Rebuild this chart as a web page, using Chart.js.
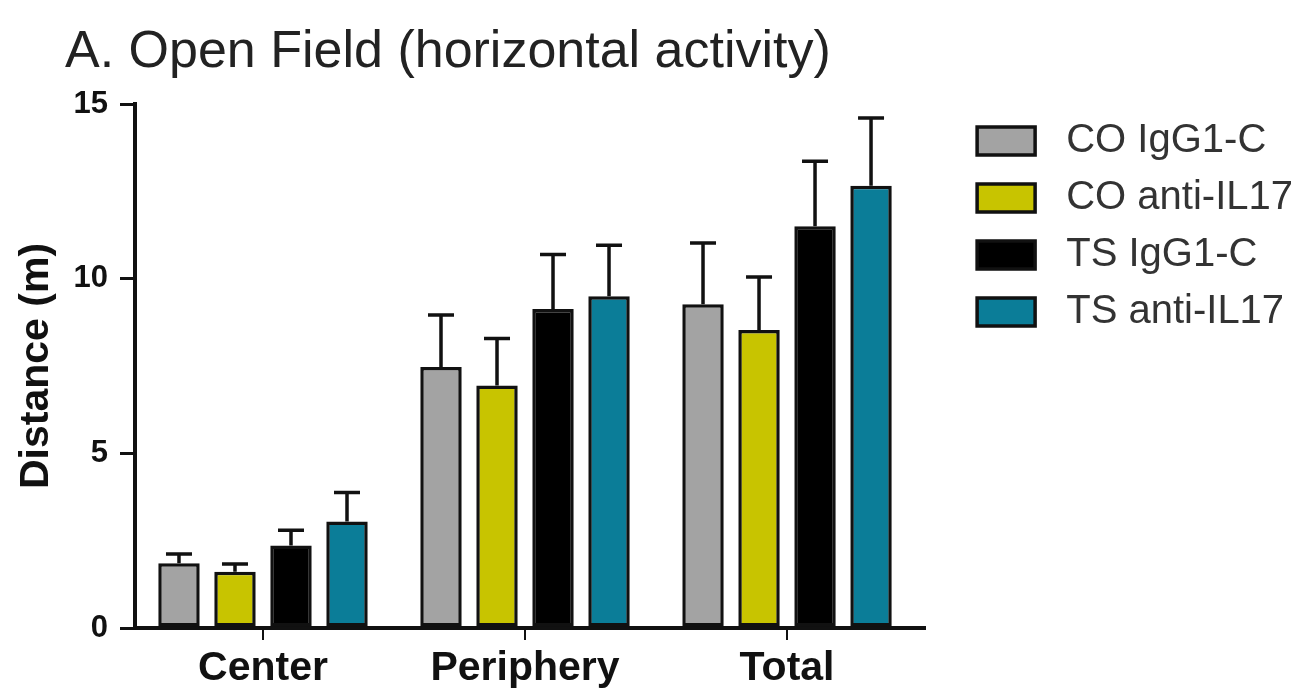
<!DOCTYPE html>
<html lang="en">
<head>
  <meta charset="UTF-8">
  <title>A. Open Field (horizontal activity)</title>
  <script src="https://cdn.jsdelivr.net/npm/chart.js"></script>
  <style>
    body {
      margin: 0;
      background: #fff;
      font-family: 'Liberation Sans', Arial, sans-serif;
    }

    #titulo {
      box-sizing: border-box;
      height: 80px;
      padding: 18px 0 0 65px;
      font-size: 52px;
      line-height: 62px;
      color: #222;
      white-space: nowrap;
    }

    #caixa {
      position: relative;
      width: 1314px;
      height: 614px;
    }
  </style>
</head>
<body>

  <div id="titulo">A. Open Field (horizontal activity)</div>
  <div id="caixa">
    <canvas id="grafico"></canvas>
  </div>

  <script>
    const categorias = ['Center', 'Periphery', 'Total'];
    const grupos = ['CO IgG1-C', 'CO anti-IL17', 'TS IgG1-C', 'TS anti-IL17'];
    const cores = ['#a3a3a3', '#c8c400', '#000000', '#0b7d98'];

    // medias e erro (so a parte de cima) por grupo
    const coIgg = [1.85, 7.47, 9.27];
    const coIggErro = [0.27, 1.49, 1.75];
    const coAnti = [1.61, 6.94, 8.53];
    const coAntiErro = [0.22, 1.35, 1.52];
    const tsIgg = [2.36, 9.13, 11.50];
    const tsIggErro = [0.44, 1.56, 1.86];
    const tsAnti = [3.05, 9.50, 12.66];
    const tsAntiErro = [0.83, 1.46, 1.94];

    const yTicks = [0, 5, 10, 15];

    const medias = [coIgg, coAnti, tsIgg, tsAnti];
    const erros = [coIggErro, coAntiErro, tsIggErro, tsAntiErro];

    const barrasErro = {
      id: 'barrasErro',
      afterDatasetsDraw(chart) {
        const ctx = chart.ctx;
        const y = chart.scales.y;
        ctx.save();
        ctx.strokeStyle = '#111';
        ctx.lineWidth = 3.5;
        chart.data.datasets.forEach((ds, i) => {
          chart.getDatasetMeta(i).data.forEach((bar, j) => {
            const topo = y.getPixelForValue(medias[i][j] + erros[i][j]);
            ctx.beginPath();
            ctx.moveTo(bar.x, bar.y);
            ctx.lineTo(bar.x, topo);
            ctx.moveTo(bar.x - 13, topo);
            ctx.lineTo(bar.x + 13, topo);
            ctx.stroke();
          });
        });
        ctx.restore();
      }
    };

    new Chart(document.getElementById('grafico'), {
      type: 'bar',
      data: {
        labels: categorias.map((c, i) => i),
        datasets: grupos.map((g, i) => ({
          label: g,
          data: medias[i].map((v, j) => ({ x: j, y: v })),
          backgroundColor: cores[i],
          borderColor: '#111',
          borderWidth: 3.5,
          borderSkipped: false,
          categoryPercentage: 0.855,
          barPercentage: 0.74
        }))
      },
      options: {
        responsive: true,
        maintainAspectRatio: false,
        animation: false,
        layout: { padding: { top: 24, right: 11, left: 0, bottom: 0 } },
        plugins: {
          tooltip: { enabled: false },
          legend: {
            position: 'right',
            align: 'start',
            fullSize: false,
            maxWidth: 420,
            labels: {
              boxWidth: 58,
              boxHeight: 28,
              padding: 17,
              color: '#333',
              font: { family: 'Liberation Sans', size: 40 },
              generateLabels(chart) {
                const itens = Chart.defaults.plugins.legend.labels.generateLabels(chart);
                itens.forEach(it => { it.text = ' ' + it.text; });
                return itens;
              }
            }
          }
        },
        scales: {
          x: {
            type: 'linear',
            min: -0.4885,
            max: 2.527,
            offset: false,
            afterFit(s) { s.height = 66; },
            border: { display: true, color: '#111', width: 4 },
            grid: { display: true, offset: false, drawOnChartArea: false, drawTicks: true, tickLength: 12, color: '#111', lineWidth: 2 },
            ticks: {
              stepSize: 1,
              includeBounds: false,
              autoSkip: false,
              maxRotation: 0,
              padding: 4,
              color: '#111',
              font: { family: 'Liberation Sans', size: 41, weight: 'bold' },
              callback: v => categorias[v]
            }
          },
          y: {
            min: 0,
            max: 15,
            afterFit(s) {
              s.width = 135;
              s.paddingTop = 0;
              s.paddingBottom = 0;
            },
            afterBuildTicks(s) { s.ticks = yTicks.map(v => ({ value: v })); },
            border: { display: true, color: '#111', width: 4 },
            grid: { display: true, drawOnChartArea: false, drawTicks: true, tickLength: 15, color: '#111', lineWidth: 3 },
            ticks: {
              padding: 12,
              color: '#111',
              font: { family: 'Liberation Sans', size: 31, weight: 'bold' }
            },
            title: {
              display: true,
              text: 'Distance (m)',
              color: '#111',
              padding: { top: 12, bottom: 0 },
              font: { family: 'Liberation Sans', size: 41, weight: 'bold' }
            }
          },
          // eixo vazio so para abrir espaco antes da legenda
          folga: {
            type: 'linear',
            position: 'right',
            display: true,
            afterFit(s) { s.width = 35; },
            border: { display: false },
            grid: { display: false },
            ticks: { display: false }
          }
        }
      },
      plugins: [barrasErro]
    });
  </script>

</body>
</html>
